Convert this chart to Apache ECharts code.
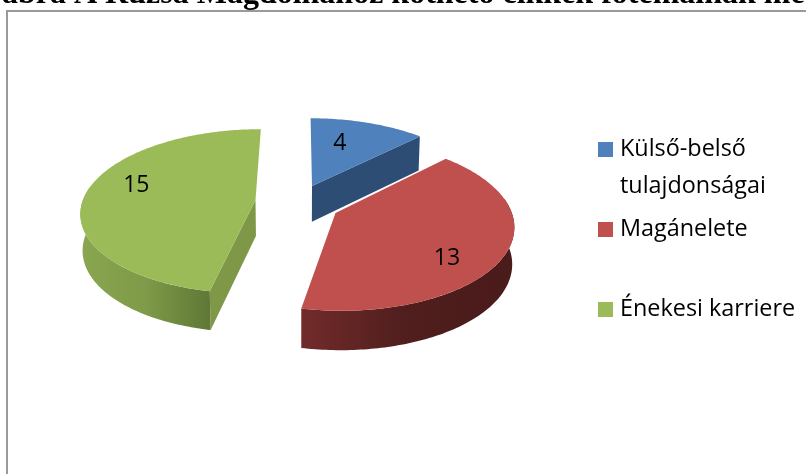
<!DOCTYPE html>
<html><head><meta charset="utf-8">
<style>html,body{margin:0;padding:0;background:#fff}#c{width:806px;height:474px}</style>
<script src="https://cdn.jsdelivr.net/npm/echarts@6/dist/echarts.min.js"></script>
</head><body><div id="c"></div>
<script>
const categories = ['Külső-belső tulajdonságai', 'Magánelete', 'Énekesi karriere'];
const values = [4, 13, 15];
const legendText = ['\nKülső-belső\ntulajdonságai', 'Magánelete', '\nÉnekesi karriere\n'];
const titleText = 'ábra A Rúzsa Magdolnához köthető cikkek főtémáinak me';

const topColors = ['#4f81bd', '#c0504d', '#9bbb59'];
const faceColors = ['#2d4d75', '#4d1d1c', '#7f9848'];
const wallStops = [
  ['#2d4d75', '#2d4d75', '#2d4d75'],
  ['#722b2b', '#4f1e1d', '#4a1b1b'],
  ['#8aa650', '#7f9a48', '#5f7836']
];
// exploded slice tips on screen, and label placement relative to each slice
const sliceTips = [[312, 186], [335.5, 213], [255.5, 200]];
const labelShift = [-6.5, 12, 10.5];
const labelRadius = [0.66, 0.75, 0.75];

// perspective projection of the pie plane
const CX = 300, CY = 205, A = 174, B = 81.9, K = 0.1377, SHRINK = 0.99;
const rad = d => d * Math.PI / 180;
const project = (x, w) => { const d = 1 - K * w; return [CX + A * x / d, CY + B * w / d]; };
const toWorld = (X, Y) => {
  const y = Y - CY, w = y / (B + K * y);
  return [(X - CX) * (1 - K * w) / A, w];
};
const lower = p => [CX + (p[0] - CX) * SHRINK, p[1] + 34 + (p[1] - 130) * 0.03];

const total = values.reduce((a, b) => a + b, 0);
const starts = values.map((v, i) => values.slice(0, i).reduce((a, b) => a + b, 0) / total * 360);

function makeRender(i) {
  return function (params, api) {
    const a0 = starts[i], a1 = a0 + api.value(0) / total * 360;
    const o = toWorld(sliceTips[i][0], sliceTips[i][1]);
    const rim = t => project(o[0] + Math.sin(rad(t)), o[1] - Math.cos(rad(t)));
    const arc = (s, e) => { const r = [], n = Math.max(2, Math.ceil(e - s)); for (let k = 0; k <= n; k++) r.push(rim(s + (e - s) * k / n)); return r; };
    const tip = project(o[0], o[1]);
    const kids = [];
    const poly = (points, fill) => kids.push({ type: 'polygon', shape: { points }, style: { fill, stroke: null } });
    const radial = t => { const p = rim(t); poly([tip, p, lower(p), lower(tip)], faceColors[i]); };
    if (a0 > 180) radial(a0);
    if (a1 < 180) radial(a1);
    const ws = Math.max(a0, 80), we = Math.min(a1, 280);
    if (we > ws) {
      const top = arc(ws, we), bot = top.map(lower).reverse();
      const xs = top.map(p => p[0]);
      const x0 = Math.min.apply(null, xs), x1 = Math.max.apply(null, xs);
      const fill = new echarts.graphic.LinearGradient(x0, 0, x1, 0, [
        { offset: 0, color: wallStops[i][0] },
        { offset: 0.5, color: wallStops[i][1] },
        { offset: 1, color: wallStops[i][2] }
      ], true);
      poly(top.concat(bot), fill);
    }
    poly([tip].concat(arc(a0, a1)), topColors[i]);
    const lt = (a0 + a1) / 2 + labelShift[i];
    const lp = project(o[0] + labelRadius[i] * Math.sin(rad(lt)), o[1] - labelRadius[i] * Math.cos(rad(lt)));
    kids.push({ type: 'text', style: { x: lp[0] + 0.5, y: lp[1] + 2, text: String(api.value(0)), fill: '#000', align: 'center', verticalAlign: 'middle', font: '23px "Open Sans"' } });
    return { type: 'group', children: kids };
  };
}

const chart = echarts.init(document.getElementById('c'), null, { renderer: 'canvas' });
chart.setOption({
  animation: false,
  backgroundColor: '#fff',
  title: { text: titleText, left: 2, top: -21, padding: 0, textStyle: { fontFamily: 'Liberation Serif', fontWeight: 'bold', fontSize: 32, color: '#000' } },
  legend: {
    orient: 'vertical', left: 598, top: 94, padding: 0, itemGap: 6, itemWidth: 15, itemHeight: 15, icon: 'rect',
    data: categories,
    formatter: n => legendText[categories.indexOf(n)],
    textStyle: { fontFamily: 'Open Sans', fontSize: 23.4, lineHeight: 37, color: '#000', padding: [0, 0, 0, 2] }
  },
  graphic: [{ type: 'polyline', silent: true, shape: { points: [[7, 474], [7, 11], [806, 11]] }, style: { stroke: '#9a9a9a', lineWidth: 2, fill: null } }],
  series: categories.map((name, i) => ({
    type: 'custom', name, coordinateSystem: 'none', silent: true, clip: false,
    itemStyle: { color: topColors[i] },
    data: [[values[i]]],
    encode: { value: 0 },
    renderItem: makeRender(i)
  }))
});
</script></body></html>
